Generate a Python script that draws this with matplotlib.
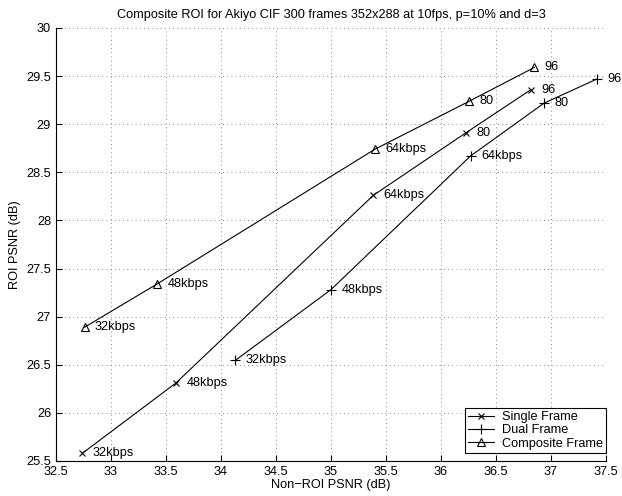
import matplotlib
matplotlib.use("Agg")
import matplotlib.pyplot as plt

plt.rcParams['font.family'] = ['Liberation Sans', 'DejaVu Sans']

# Non-ROI PSNR (x) and ROI PSNR (y) in dB for each coding scheme
single_x = [32.74, 33.59, 35.385, 36.227, 36.82]
single_y = [25.58, 26.31, 28.26, 28.91, 29.36]
single_labels = ['32kbps', '48kbps', '64kbps', '80', '96']

dual_x = [34.13, 35.0, 36.27, 36.94, 37.42]
dual_y = [26.545, 27.28, 28.67, 29.22, 29.47]
dual_labels = ['32kbps', '48kbps', '64kbps', '80', '96']

comp_x = [32.76, 33.42, 35.40, 36.26, 36.85]
comp_y = [26.89, 27.34, 28.74, 29.24, 29.59]
comp_labels = ['32kbps', '48kbps', '64kbps', '80', '96']

xticks = [32.5, 33, 33.5, 34, 34.5, 35, 35.5, 36, 36.5, 37, 37.5]
yticks = [25.5, 26, 26.5, 27, 27.5, 28, 28.5, 29, 29.5, 30]

fs = 9.2

fig = plt.figure(figsize=(6.22, 4.96), dpi=100)
ax = fig.add_axes([0.090, 0.0706, 0.884, 0.873])

lw = 0.8
ax.plot(single_x, single_y, color='black', lw=lw, marker='x', ms=5,
        mew=0.8, label='Single Frame')
ax.plot(dual_x, dual_y, color='black', lw=lw, marker='+', ms=7,
        mew=0.8, label='Dual Frame')
ax.plot(comp_x, comp_y, color='black', lw=lw, marker='^', ms=6,
        mew=0.8, mfc='none', label='Composite Frame')

for xs, ys, labs in [(single_x, single_y, single_labels),
                     (dual_x, dual_y, dual_labels),
                     (comp_x, comp_y, comp_labels)]:
    for x, y, t in zip(xs, ys, labs):
        ax.annotate(t, (x, y), xytext=(7.5, 0), textcoords='offset points',
                    ha='left', va='center', fontsize=fs)

ax.set_xlim(32.5, 37.5)
ax.set_ylim(25.5, 30)
ax.set_xticks(xticks)
ax.set_yticks(yticks)
ax.set_xticklabels([f'{v:g}' for v in xticks])
ax.set_yticklabels([f'{v:g}' for v in yticks])
ax.tick_params(direction='in', length=4, width=0.8, labelsize=fs)

ax.grid(True, linestyle=(0, (1, 4)), color='#666666', lw=0.6)
ax.spines['top'].set_visible(False)
ax.spines['right'].set_visible(False)
ax.spines['left'].set_linewidth(0.8)
ax.spines['bottom'].set_linewidth(0.8)

ax.set_xlabel('Non\u2212ROI PSNR (dB)', fontsize=fs, labelpad=1)
ax.set_ylabel('ROI PSNR (dB)', fontsize=fs, labelpad=4)
ax.set_title('Composite ROI for Akiyo CIF 300 frames 352x288 at 10fps, p=10% and d=3',
             fontsize=fs, pad=7)

leg = ax.legend(loc='lower right', bbox_to_anchor=(1.0, 0.0185),
                fontsize=fs, fancybox=False, edgecolor='black', framealpha=1,
                borderaxespad=0, handlelength=2.0, borderpad=0.25,
                labelspacing=0.1, handletextpad=0.6)
leg.get_frame().set_linewidth(0.8)

fig.savefig('out.png', dpi=100)
